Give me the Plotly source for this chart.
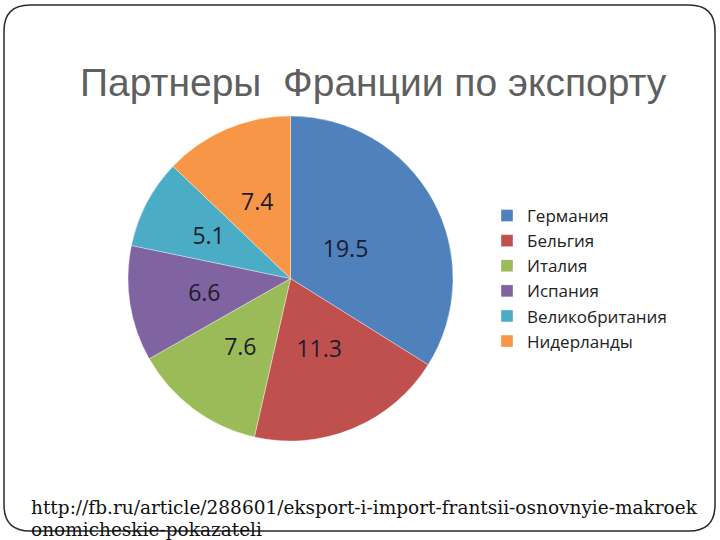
import plotly.graph_objects as go

countries = ["Германия", "Бельгия", "Италия", "Испания", "Великобритания", "Нидерланды"]
values = [19.5, 11.3, 7.6, 6.6, 5.1, 7.4]
colors = ["#4F81BD", "#C0504D", "#9BBB59", "#8064A2", "#4BACC6", "#F79646"]
title_text = "Партнеры\u00a0\u00a0Франции по экспорту"
source_line1 = "http://fb.ru/article/288601/eksport-i-import-frantsii-osnovnyie-makroek"
source_line2 = "onomicheskie-pokazateli"

W, H = 720, 540
cx, cy, R = 290.5, 278.5, 162.5   # pie centre / radius in pixels
r_lab = 118                         # radius of the invisible label pie

fig = go.Figure()
fig.add_trace(go.Pie(
    labels=countries,
    values=values,
    sort=False,
    direction="clockwise",
    rotation=0,
    marker=dict(colors=colors, line=dict(color="rgba(255,255,255,0.6)", width=0.6)),
    textinfo="none",
    hoverinfo="label+value",
    domain=dict(x=[(cx - R) / W, (cx + R) / W], y=[1 - (cy + R) / H, 1 - (cy - R) / H]),
))
# transparent inner pie carrying the value labels (closer to the centre, like the original)
fig.add_trace(go.Pie(
    labels=countries,
    values=values,
    sort=False,
    direction="clockwise",
    rotation=0,
    showlegend=False,
    marker=dict(colors=["rgba(0,0,0,0)"] * len(values), line=dict(width=0)),
    textinfo="value",
    textposition="inside",
    insidetextorientation="horizontal",
    textfont=dict(family="Open Sans, Noto Sans, sans-serif", size=23, color="#1c1c2c"),
    hoverinfo="skip",
    domain=dict(x=[(cx - r_lab) / W, (cx + r_lab) / W], y=[1 - (cy + r_lab) / H, 1 - (cy - r_lab) / H]),
))

# rounded slide border
x0, x1 = 4 / W, 715 / W
y0, y1 = 1 - 531 / H, 1 - 5 / H
rx, ry = 26 / W, 26 / H
path = (
    f"M {x0+rx},{y1} L {x1-rx},{y1} Q {x1},{y1} {x1},{y1-ry} "
    f"L {x1},{y0+ry} Q {x1},{y0} {x1-rx},{y0} "
    f"L {x0+rx},{y0} Q {x0},{y0} {x0},{y0+ry} "
    f"L {x0},{y1-ry} Q {x0},{y1} {x0+rx},{y1} Z"
)
fig.add_shape(type="path", path=path, xref="paper", yref="paper",
              line=dict(color="#2a2a2a", width=1.5), fillcolor="rgba(0,0,0,0)", layer="below")

fig.add_annotation(text=title_text, x=373.5 / W, y=1 - 83 / H, xref="paper", yref="paper",
                   xanchor="center", yanchor="middle", showarrow=False,
                   font=dict(family="Liberation Sans, Arial, sans-serif", size=39, color="#5f5f5f"))

for txt, ypix in [(source_line1, 507), (source_line2, 529)]:
    fig.add_annotation(text=txt, x=29 / W, y=1 - ypix / H, xref="paper", yref="paper",
                       xanchor="left", yanchor="middle", align="left", showarrow=False,
                       font=dict(family="DejaVu Serif, serif", size=18.5, color="#111111"))

fig.update_layout(
    width=W, height=H,
    margin=dict(l=0, r=0, t=0, b=0),
    paper_bgcolor="white",
    plot_bgcolor="white",
    showlegend=True,
    uniformtext=dict(minsize=23, mode="show"),
    legend=dict(x=487 / W, y=1 - 198 / H, xanchor="left", yanchor="top",
                itemwidth=30,
                font=dict(family="Open Sans, Noto Sans, sans-serif", size=17, color="#222222"),
                bgcolor="rgba(0,0,0,0)", itemclick=False, itemdoubleclick=False),
)

fig.write_html("out.html", config={"displayModeBar": False},
               post_script="document.body.style.margin='0';document.body.style.overflow='hidden';")
